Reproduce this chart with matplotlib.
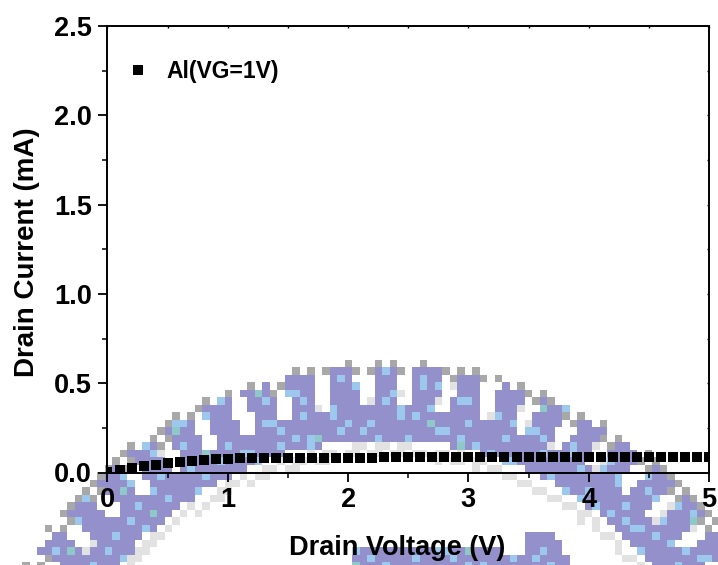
import numpy as np
import matplotlib
matplotlib.use('Agg')
import matplotlib.pyplot as plt
from matplotlib.colors import ListedColormap

plt.rcParams['font.family'] = ['Liberation Sans', 'DejaVu Sans']
plt.rcParams['font.weight'] = 'bold'

# Drain voltage (V) and drain current (mA)
voltage = [0.0, 0.1, 0.2, 0.3, 0.4, 0.5, 0.6, 0.7, 0.8, 0.9,
           1.0, 1.1, 1.2, 1.3, 1.4, 1.5, 1.6, 1.7, 1.8, 1.9,
           2.0, 2.1, 2.2, 2.3, 2.4, 2.5, 2.6, 2.7, 2.8, 2.9,
           3.0, 3.1, 3.2, 3.3, 3.4, 3.5, 3.6, 3.7, 3.8, 3.9,
           4.0, 4.1, 4.2, 4.3, 4.4, 4.5, 4.6, 4.7, 4.8, 4.9, 5.0]
current = [0.005, 0.014, 0.025, 0.036, 0.042, 0.051, 0.059, 0.066, 0.070, 0.075,
           0.077, 0.079, 0.080, 0.081, 0.081, 0.082, 0.082, 0.082, 0.083, 0.083,
           0.083, 0.083, 0.083, 0.084, 0.084, 0.084, 0.084, 0.084, 0.084, 0.084,
           0.084, 0.084, 0.084, 0.085, 0.085, 0.085, 0.085, 0.085, 0.085, 0.085,
           0.085, 0.086, 0.086, 0.086, 0.086, 0.086, 0.087, 0.087, 0.087, 0.087, 0.088]
series_label = 'Al(VG=1V)'
x_ticks = [0, 1, 2, 3, 4, 5]
y_ticks = [0.0, 0.5, 1.0, 1.5, 2.0, 2.5]

W, H = 718, 565
fig = plt.figure(figsize=(W / 100, H / 100), dpi=100)

# pixelated seal behind the chart, built on a coarse grid of cells
cell = 7.5
nx, ny = int(W / cell) + 1, int(H / cell) + 1
jj, ii = np.meshgrid(np.arange(nx), np.arange(ny))
px = (jj + 0.5) * cell
py = (ii + 0.5) * cell
cx, cy = 385, 785
r = np.hypot(px - cx, py - cy)
ang = np.degrees(np.arctan2(px - cx, cy - py))
phase = np.abs((ang + 3) % 6 - 3)
tooth = phase < 1.9
seal = ((r > 345) & (r < 377)) | ((r >= 377) & (r < 418) & tooth)
seal |= (px > 350) & (px < 505) & (py > 547)
seal |= (px > 522) & (px < 565) & (py > 535) & (r < 300)
seal |= (px > 500) & (px < 570) & (py > 552)

grid = np.zeros(seal.shape, dtype=int)
grid[seal] = 1
# light blue speckle inside the ring
speckle = ((ii * 5 + jj * 3) % 11 == 0) | ((ii * 2 + jj * 7) % 13 == 0)
grid[seal & speckle] = 2
grid[seal & ((ii * 3 + jj * 11) % 53 == 0)] = 4
# grey fringe along the ring edges
fringe = ~seal & (r > 328) & (r < 340) & ((ii + jj) % 3 != 0)
grid[fringe] = 5
fringe2 = ~seal & (r >= 405) & (r < 424) & (phase < 2.6) & ((ii + jj) % 2 == 0)
grid[fringe2] = 3
fringe3 = ~seal & (r >= 377) & (r < 405) & (phase < 2.4) & ((ii + jj) % 3 == 0)
grid[fringe3] = 5
colors = ['#ffffff', '#9490cb', '#9cc8ee', '#a8a8a8', '#8ec8c8', '#e2e2e2']

bg = fig.add_axes([0, 0, 1, 1], zorder=0)
bg.imshow(grid, cmap=ListedColormap(colors), vmin=0, vmax=5,
          extent=(0, nx * cell, ny * cell, 0), interpolation='nearest', aspect='auto')
bg.set_xlim(0, W)
bg.set_ylim(H, 0)
bg.axis('off')

ax = fig.add_axes([107.5 / W, 1 - 472.5 / H, 601.5 / W, 446.5 / H], zorder=1)
ax.patch.set_alpha(0)
ax.plot(voltage, current, 's', color='black', markersize=6.8, markeredgewidth=0, label=series_label)
ax.set_xlim(0, 5)
ax.set_ylim(0, 2.5)
ax.set_xticks(x_ticks)
ax.set_yticks(y_ticks)
ax.set_xticks(np.arange(0.5, 5, 1), minor=True)
ax.set_yticks(np.arange(0.25, 2.5, 0.5), minor=True)
ax.set_yticklabels(['%.1f' % v for v in y_ticks])
ax.tick_params(which='major', length=6.5, width=1.3, labelsize=19.5, pad=4.5)
ax.tick_params(which='minor', length=3.6, width=1.1)
ax.tick_params(axis='x', which='major', pad=4)
for s in ax.spines.values():
    s.set_linewidth(1.4)
# tiny mirrored ticks on top and right
top = ax.secondary_xaxis('top')
top.set_xticks(np.arange(0, 5.01, 0.5))
top.tick_params(direction='in', length=1.2, width=1.0, labeltop=False)
top.spines['top'].set_visible(False)
right = ax.secondary_yaxis('right')
right.set_yticks(np.arange(0, 2.51, 0.25))
right.tick_params(direction='in', length=1.2, width=1.0, labelright=False)
right.spines['right'].set_visible(False)

ax.set_xlabel('Drain Voltage (V)', fontsize=19.5, fontweight='bold')
ax.set_ylabel('Drain Current (mA)', fontsize=20, fontweight='bold')
ax.xaxis.set_label_coords((397 - 107.5) / 601.5, -(548 - 472.5) / 446.5)
ax.xaxis.label.set_verticalalignment('center')
ax.yaxis.set_label_coords(-(107.5 - 27) / 601.5, (472.5 - 252.5) / 446.5)
ax.yaxis.label.set_verticalalignment('center')

ax.legend(loc='upper left', bbox_to_anchor=(0.002, 0.939), frameon=False, numpoints=1,
          markerscale=0.97, prop={'size': 16.5, 'weight': 'bold'},
          handletextpad=0.2, borderpad=0.3, borderaxespad=0)

fig.savefig('out.png', dpi=100)
